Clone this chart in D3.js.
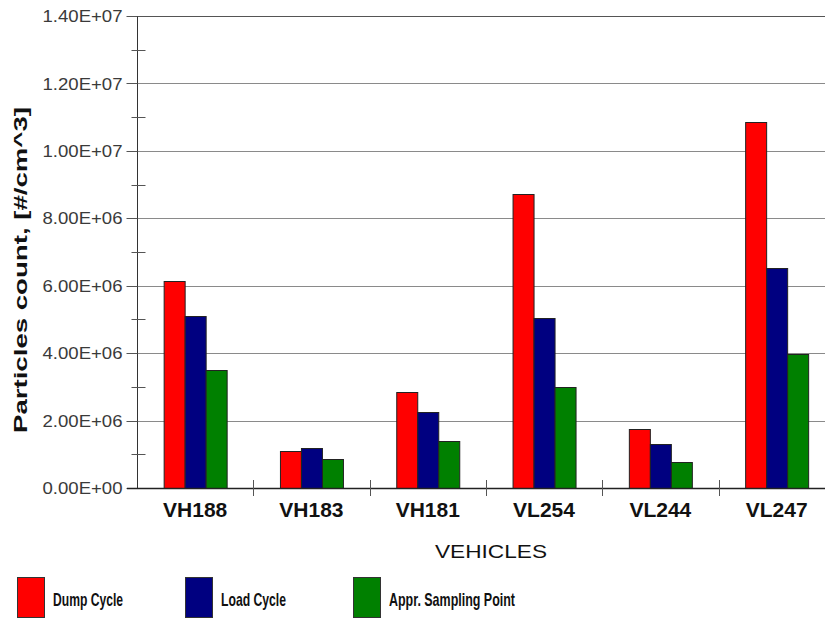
<!DOCTYPE html>
<html>
<head>
<meta charset="utf-8">
<script src="https://cdn.jsdelivr.net/npm/d3@7"></script>
<style>
  body { margin: 0; background: #fff; }
  svg { display: block; }
</style>
</head>
<body>
<div id="chart"></div>
<script>
// data
const vehicles = ['VH188', 'VH183', 'VH181', 'VL254', 'VL244', 'VL247'];
const seriesNames = ['Dump Cycle', 'Load Cycle', 'Appr. Sampling Point'];
const seriesColors = ['#ff0000', '#000080', '#008000'];
const dumpCycle = [6.15e6, 1.10e6, 2.85e6, 8.72e6, 1.75e6, 1.086e7];
const loadCycle = [5.10e6, 1.19e6, 2.25e6, 5.04e6, 1.30e6, 6.52e6];
const samplingPoint = [3.50e6, 0.86e6, 1.40e6, 2.99e6, 0.78e6, 3.98e6];
const yTicks = [0, 2e6, 4e6, 6e6, 8e6, 1e7, 1.2e7, 1.4e7];
const yMinorTicks = [1e6, 3e6, 5e6, 7e6, 9e6, 1.1e7, 1.3e7];

let config = {
  width: 825,
  height: 618,
  left: 137,
  top: 16,
  bottom: 488,
  step: 116.3,
  barWidth: 21
};

let seriesValues = [dumpCycle, loadCycle, samplingPoint];

let svg = d3.select('#chart')
  .append('svg')
  .attr('width', config.width)
  .attr('height', config.height)
  ;

let yscale = d3.scaleLinear()
  .domain([0, 1.4e7])
  .range([config.bottom, config.top])
  ;

let xscale = d3.scaleBand()
  .domain(vehicles)
  .range([config.left, config.left + config.step * vehicles.length])
  ;

let inner = d3.scaleBand()
  .domain(seriesNames)
  .range([0, config.barWidth * seriesNames.length])
  ;

// gridlines
svg.append('g')
  .selectAll('line')
  .data(yTicks.slice(1))
  .enter()
  .append('line')
  .attr('x1', config.left - 10)
  .attr('x2', config.width)
  .attr('y1', d => Math.round(yscale(d)) + 0.5)
  .attr('y2', d => Math.round(yscale(d)) + 0.5)
  .attr('stroke', (d, i) => i == yTicks.length - 2 ? '#555' : '#8a8a8a')
  .attr('stroke-width', 1)
  ;

// bars
let groups = svg.selectAll('.group')
  .data(vehicles)
  .enter()
  .append('g')
  .attr('class', 'group')
  .attr('transform', d => `translate(${xscale(d) + (xscale.bandwidth() - inner.range()[1]) / 2}, 0)`)
  ;

groups.selectAll('rect')
  .data((d, i) => seriesNames.map((s, j) => ({ series: s, value: seriesValues[j][i], color: seriesColors[j] })))
  .enter()
  .append('rect')
  .attr('x', d => inner(d.series) + 0.5)
  .attr('y', d => Math.round(yscale(d.value)) + 0.5)
  .attr('width', inner.bandwidth())
  .attr('height', d => config.bottom - Math.round(yscale(d.value)))
  .attr('fill', d => d.color)
  .attr('stroke', '#222')
  .attr('stroke-width', 1)
  ;

// y axis
let yaxis = svg.append('g')
  .attr('transform', `translate(${config.left + 0.5}, 0)`)
  ;
yaxis.append('line')
  .attr('y1', config.top)
  .attr('y2', config.bottom)
  .attr('stroke', '#333')
  ;
yaxis.selectAll('.minor')
  .data(yMinorTicks)
  .enter()
  .append('line')
  .attr('class', 'minor')
  .attr('x1', -6)
  .attr('x2', 8)
  .attr('y1', d => Math.round(yscale(d)) + 0.5)
  .attr('y2', d => Math.round(yscale(d)) + 0.5)
  .attr('stroke', '#555')
  ;
yaxis.selectAll('.major')
  .data(yTicks)
  .enter()
  .append('line')
  .attr('class', 'major')
  .attr('x1', -11)
  .attr('x2', 0)
  .attr('y1', d => Math.round(yscale(d)) + 0.5)
  .attr('y2', d => Math.round(yscale(d)) + 0.5)
  .attr('stroke', '#555')
  ;
yaxis.selectAll('text')
  .data(yTicks)
  .enter()
  .append('text')
  .attr('x', -15)
  .attr('y', d => yscale(d))
  .attr('dy', '0.36em')
  .attr('text-anchor', 'end')
  .attr('textLength', 80)
  .attr('lengthAdjust', 'spacingAndGlyphs')
  .style('font-family', 'Arial, "Liberation Sans", sans-serif')
  .style('font-size', '17px')
  .style('fill', '#3a3a3a')
  .text(d => d.toExponential(2).replace('e', 'E').replace(/E([+-])(\d)$/, 'E$10$2'))
  ;

// x axis
let xaxis = svg.append('g');
xaxis.append('line')
  .attr('x1', config.left - 10)
  .attr('x2', config.width)
  .attr('y1', config.bottom + 0.5)
  .attr('y2', config.bottom + 0.5)
  .attr('stroke', '#222')
  .attr('stroke-width', 1.5)
  ;
xaxis.selectAll('.tick')
  .data(vehicles.slice(1))
  .enter()
  .append('line')
  .attr('class', 'tick')
  .attr('x1', d => Math.round(xscale(d)) + 0.5)
  .attr('x2', d => Math.round(xscale(d)) + 0.5)
  .attr('y1', config.bottom - 8)
  .attr('y2', config.bottom + 8)
  .attr('stroke', '#555')
  ;
xaxis.selectAll('text')
  .data(vehicles)
  .enter()
  .append('text')
  .attr('x', d => xscale(d) + xscale.bandwidth() / 2)
  .attr('y', 517)
  .attr('text-anchor', 'middle')
  .style('font-family', 'Arial, "Liberation Sans", sans-serif')
  .style('font-size', '21px')
  .style('font-weight', 'bold')
  .style('fill', '#111')
  .text(d => d)
  ;

// axis titles
svg.append('text')
  .attr('x', 491)
  .attr('y', 558)
  .attr('text-anchor', 'middle')
  .attr('textLength', 112)
  .attr('lengthAdjust', 'spacingAndGlyphs')
  .style('font-family', 'Arial, "Liberation Sans", sans-serif')
  .style('font-size', '18px')
  .style('fill', '#111')
  .text('VEHICLES')
  ;

svg.append('text')
  .attr('transform', 'translate(27, 270) rotate(-90)')
  .attr('text-anchor', 'middle')
  .attr('textLength', 326)
  .attr('lengthAdjust', 'spacingAndGlyphs')
  .style('font-family', 'Arial, "Liberation Sans", sans-serif')
  .style('font-size', '19px')
  .style('font-weight', 'bold')
  .style('fill', '#111')
  .text('Particles count, [#/cm^3]')
  ;

// legend
let legendX = [17, 185, 353];
let legendTextWidth = [70, 65, 126];
let legend = svg.selectAll('.legend')
  .data(seriesNames)
  .enter()
  .append('g')
  .attr('class', 'legend')
  .attr('transform', (d, i) => `translate(${legendX[i]}, 577)`)
  ;
legend.append('rect')
  .attr('x', 0.5)
  .attr('y', 0.5)
  .attr('width', 27)
  .attr('height', 40)
  .attr('fill', (d, i) => seriesColors[i])
  .attr('stroke', '#333')
  ;
legend.append('text')
  .attr('x', 36)
  .attr('y', 28.5)
  .attr('textLength', (d, i) => legendTextWidth[i])
  .attr('lengthAdjust', 'spacingAndGlyphs')
  .style('font-family', '"Liberation Sans Narrow", Arial, sans-serif')
  .style('font-size', '19px')
  .style('font-weight', 'bold')
  .style('fill', '#111')
  .text(d => d)
  ;
</script>
</body>
</html>
